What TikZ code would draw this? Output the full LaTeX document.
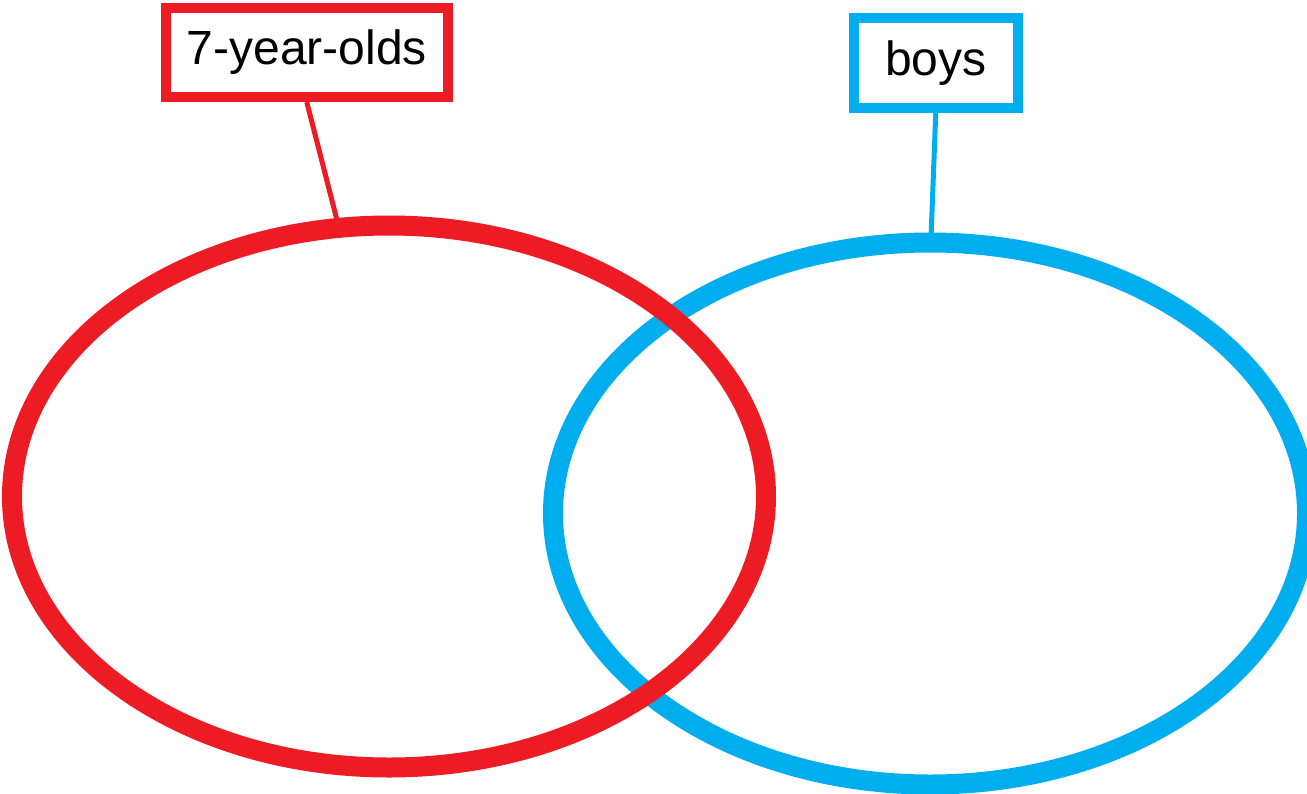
\documentclass[tikz,border=0pt]{standalone}
\usepackage{fontspec}
\setmainfont{Liberation Sans}
\usetikzlibrary{shapes.geometric}
\definecolor{vred}{HTML}{ED1C24}
\definecolor{vblue}{HTML}{00AEEF}
\begin{document}
\begin{tikzpicture}[x=1pt,y=-1pt,
  setring/.style={ellipse,draw,line width=20pt,minimum width=754pt,minimum height=542pt,inner sep=0pt},
  labelbox/.style={rectangle,draw,fill=white,line width=10pt,inner sep=0pt,font=\fontsize{48}{58}\selectfont},
  leader/.style={line width=5pt}]
\useasboundingbox (0,0) rectangle (1307,793);
\clip (0,0) rectangle (1307,793);
\node[labelbox,draw=vred,minimum width=282.5pt,minimum height=89.5pt] (rbox) at (306.75,52.25) {7-year-olds};
\node[labelbox,draw=vblue,minimum width=164.5pt,minimum height=90.5pt] (bbox) at (935.75,62.75) {boys};
\coordinate (rend) at (338,224);
\coordinate (bend) at (931,238);
\draw[leader,vred] (rbox.south) -- (rend);
\draw[leader,vblue] (bbox.south) -- (bend);
\node[setring,draw=vblue] (bset) at (930,513.5) {};
\node[setring,draw=vred] (rset) at (389,496.5) {};
\end{tikzpicture}
\end{document}
